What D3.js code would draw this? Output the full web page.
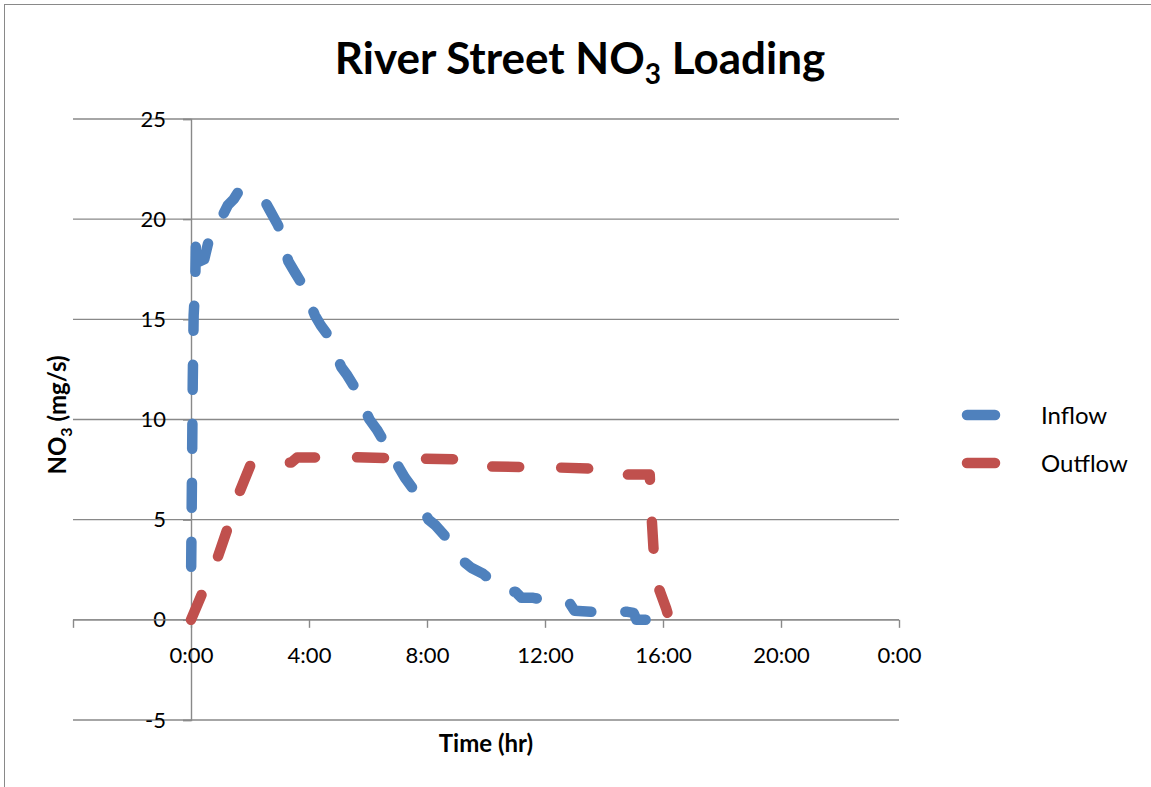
<!DOCTYPE html>
<html><head><meta charset="utf-8">
<script src="https://cdn.jsdelivr.net/npm/d3@7"></script>
<style>
body{margin:0;background:#fff}
svg{display:block}
text{font-family:Lato,"Open Sans",sans-serif;fill:#000}
</style>
</head><body>
<svg id="chart" width="1151" height="787"></svg>
<script>
// ---- data (time in hours, NO3 loading in mg/s) ----
const inflowTime  = [0.00,0.02,0.04,0.06,0.09,0.13,0.15,0.17,0.22,0.30,0.45,0.58,0.70,1.25,1.45,1.60,1.95,2.50,2.65,2.95,3.30,3.50,3.75,4.20,4.40,4.65,5.10,5.30,5.55,6.05,6.30,6.50,7.05,7.25,7.50,8.05,8.30,8.60,9.25,9.50,9.90,10.65,11.00,11.20,11.60,12.65,12.85,13.00,13.55,14.80,15.00,15.10,15.70];
const inflowValue = [1.65,5.0,8.5,12.0,15.2,16.3,17.4,19.2,18.5,17.9,18.0,18.8,19.1,20.7,21.0,21.35,21.4,20.9,20.5,19.7,17.9,17.4,16.8,15.2,14.7,14.2,12.6,12.2,11.6,10.0,9.5,9.0,7.6,7.1,6.6,5.0,4.7,4.2,2.9,2.6,2.3,1.4,1.4,1.1,1.1,0.8,0.8,0.45,0.4,0.4,0.35,0.0,0.0];
const outflowTime  = [0.00,0.40,0.90,1.25,1.65,2.05,3.40,3.60,5.50,7.50,9.90,10.15,12.50,14.55,14.70,15.55,15.60,15.68,15.85,16.10,16.15];
const outflowValue = [0.0,1.4,3.1,4.6,6.4,7.85,7.85,8.1,8.12,8.05,8.0,7.65,7.6,7.5,7.25,7.25,5.5,3.5,1.6,0.6,0.35];
const seriesNames = ["Inflow","Outflow"];
const seriesColors = ["#4F81BD","#C0504D"];
const xTicks = [-4,0,4,8,12,16,20,24];
const yTicks = [-5,0,5,10,15,20,25];
const titleMain = "River Street NO", titleSub = "3", titleEnd = " Loading";
const xTitle = "Time (hr)";
const yTitleMain = "NO", yTitleSub = "3", yTitleEnd = " (mg/s)";

// ---- layout ----
const svg = d3.select("#chart");
const x = d3.scaleLinear().domain([-4,24]).range([73,899]);
const y = d3.scaleLinear().domain([-5,25]).range([720,119]);
const grid = "#898989";

// outer chart border
svg.append("rect").attr("x",4.5).attr("y",4.5).attr("width",1200).attr("height",900)
  .attr("fill","none").attr("stroke","#898989").attr("stroke-width",1);

// horizontal gridlines
svg.append("g").selectAll("line").data(yTicks).join("line")
  .attr("x1",x(-4)).attr("x2",x(24)).attr("y1",d=>y(d)).attr("y2",d=>y(d))
  .attr("stroke",grid).attr("stroke-width",1.4);

// y axis at t=0
const yAxis = d3.axisLeft(y).tickValues(yTicks).tickSize(8).tickPadding(17).tickFormat(d=>String(d));
const gy = svg.append("g").attr("transform",`translate(${x(0)},0)`).call(yAxis);
gy.select(".domain").attr("stroke",grid).attr("stroke-width",1.4);
gy.selectAll(".tick line").attr("stroke",grid).attr("stroke-width",1.4);
gy.selectAll(".tick text").attr("font-size",22).attr("font-family","Lato").attr("fill","#000");

// x axis at value 0
const fmtT = t => t < 0 ? "" : `${t % 24}:00`;
const xAxis = d3.axisBottom(x).tickValues(xTicks).tickSize(8).tickPadding(20).tickFormat(fmtT);
const gx = svg.append("g").attr("transform",`translate(0,${y(0)})`).call(xAxis);
gx.select(".domain").attr("stroke",grid).attr("stroke-width",1.4).attr("d",`M${x(-4)},0H${x(24)}`);
gx.selectAll(".tick line").attr("stroke",grid).attr("stroke-width",1.4);
gx.selectAll(".tick text").attr("font-size",22).attr("font-family","Lato").attr("fill","#000");

// series
const inflow = inflowTime.map((t,i)=>[t,inflowValue[i]]);
const outflow = outflowTime.map((t,i)=>[t,outflowValue[i]]);
const line = d3.line().x(d=>x(d[0])).y(d=>y(d[1]));
const dashes = ["25,34","27,42"];
const dashOffsets = [-20,0];
[inflow,outflow].forEach((s,i)=>{
  svg.append("path").datum(s).attr("d",line)
    .attr("fill","none").attr("stroke",seriesColors[i]).attr("stroke-width",10.5)
    .attr("stroke-linecap","round").attr("stroke-linejoin","round")
    .attr("stroke-dasharray",dashes[i]).attr("stroke-dashoffset",dashOffsets[i]);
});

// title
const title = svg.append("text").attr("x",580).attr("y",74).attr("text-anchor","middle")
  .attr("font-weight","bold").attr("font-size",44);
title.append("tspan").text(titleMain);
title.append("tspan").attr("font-size",28).attr("dy",10).text(titleSub);
title.append("tspan").attr("dy",-10).text(titleEnd);

// axis titles
svg.append("text").attr("x",486).attr("y",752).attr("text-anchor","middle")
  .attr("font-weight","bold").attr("font-size",24).text(xTitle);
const yt = svg.append("text").attr("transform","translate(66,415) rotate(-90)")
  .attr("text-anchor","middle").attr("font-weight","bold").attr("font-size",24);
yt.append("tspan").text(yTitleMain);
yt.append("tspan").attr("font-size",16).attr("dy",6).text(yTitleSub);
yt.append("tspan").attr("dy",-6).text(yTitleEnd);

// legend
const lg = svg.append("g");
seriesNames.forEach((n,i)=>{
  const ly = 415 + i*48;
  lg.append("line").attr("x1",967).attr("x2",995).attr("y1",ly).attr("y2",ly)
    .attr("stroke",seriesColors[i]).attr("stroke-width",10.5).attr("stroke-linecap","round");
  lg.append("text").attr("x",1041).attr("y",ly+9).attr("font-size",24).text(n);
});
</script>
</body></html>
